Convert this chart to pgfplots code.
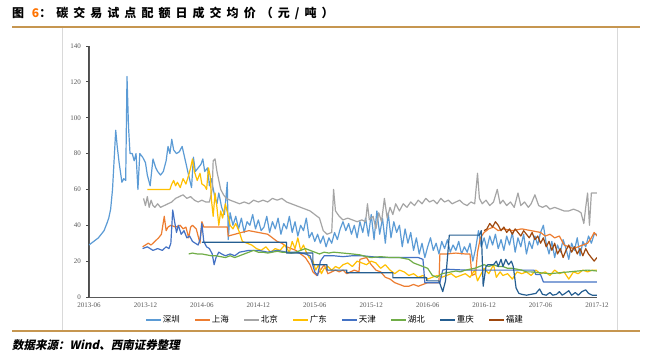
\documentclass[border=0pt]{standalone}
\usepackage{fontspec}
\usepackage{pgfplots}
\pgfplotsset{compat=1.18}
\setmainfont{Liberation Serif}
\newfontfamily\cjk{Noto Sans CJK SC}
\newfontfamily\cjktitle[LetterSpace=42]{Noto Sans CJK SC}
\newfontfamily\cjksrc[FakeSlant=0.2]{Noto Sans CJK SC}
\definecolor{szc}{RGB}{91,155,213}
\definecolor{shc}{RGB}{237,125,49}
\definecolor{bjc}{RGB}{165,165,165}
\definecolor{gdc}{RGB}{255,192,0}
\definecolor{tjc}{RGB}{68,114,196}
\definecolor{hbc}{RGB}{112,173,71}
\definecolor{cqc}{RGB}{37,94,145}
\definecolor{fjc}{RGB}{158,72,14}
\definecolor{goldline}{RGB}{198,150,80}
\definecolor{tickgray}{RGB}{89,89,89}
\begin{document}
\begin{tikzpicture}[x=1pt,y=1pt]
\useasboundingbox (0,0) rectangle (649,356);
\fill[white] (0,0) rectangle (649,356);
% frame
\fill[black!15] (61.6,25) rectangle (62.4,329);
\fill[black!15] (616.6,25) rectangle (617.4,329);
\fill[goldline] (12,328) rectangle (640,330);
\fill[goldline] (12,24) rectangle (640,26);
\node[anchor=west, inner sep=0pt] at (12,343) {\cjktitle\bfseries\fontsize{12}{14}\selectfont 图 {\color{orange!90!red}6}：碳交易试点配额日成交均价（元/吨）};
\node[anchor=west, inner sep=0pt] at (12,11) {\cjksrc\bfseries\fontsize{11.5}{13}\selectfont 数据来源：Wind、西南证券整理};
% y axis line and ticks
\fill[black!70] (88.3,59) rectangle (89.7,310);
\foreach \k in {0,...,7} {\fill[black!70] (86,{59+35.857*\k-0.4}) rectangle (89,{59+35.857*\k+0.4});}
\begin{axis}[
  at={(89pt,59pt)}, anchor=south west,
  scale only axis, width=508pt, height=251pt,
  xmin=0, xmax=54, ymin=0, ymax=140,
  axis x line=bottom, axis y line=left,
  axis line style={tickgray, line width=0.8pt, -},
  xtick={0,6,...,54},
  xticklabels={2013-06,2013-12,2014-06,2014-12,2015-06,2015-12,2016-06,2016-12,2017-06,2017-12},
  ytick={0,20,...,140},
  xtick style={draw=none},
  ytick style={draw=none},
  major tick length=3pt,
  /pgf/number format/assume math mode=true,
  tick label style={font=\fontsize{7}{8}\selectfont\color{tickgray}},
  yticklabel style={xshift=-3pt},
  xticklabel style={yshift=-1pt},
  legend style={at={(0.485,-0.065)}, anchor=north, legend columns=-1, draw=none, fill=none,
    font=\cjk\fontsize{8.5}{9}\selectfont, inner sep=0pt,
    /tikz/every even column/.append style={column sep=13pt}},
  legend image code/.code={\fill[#1, draw=none] (0pt,-0.9pt) rectangle (15pt,0.9pt);},
  every axis plot/.append style={line width=1.2pt, line join=round},
]
% 深圳
\addplot[color=szc] coordinates {
(0,29) (0.5,31) (1.0,33) (1.6,37) (1.9,41) (2.1,44) (2.3,49) (2.5,60) (2.84,93) (3.0,84) (3.2,75) (3.5,64) (3.7,66) (3.9,65) (4.04,123) (4.2,95) (4.36,80) (4.6,80) (4.8,76) (5.0,80) (5.1,70) (5.2,60) (5.4,80) (5.7,78) (6.0,75) (6.2,68) (6.5,62) (6.8,77) (7.1,72) (7.3,70) (7.6,68) (7.9,70) (8.2,76) (8.4,84) (8.6,80) (8.8,88) (9.0,82) (9.3,80) (9.6,81) (9.9,84) (10.2,77) (10.5,70) (10.9,61) (11.1,78) (11.3,70) (11.6,72) (11.9,74) (12.1,77) (12.3,70) (12.6,72) (12.8,62) (13.0,66) (13.4,55) (13.6,52) (13.8,58) (14.1,50) (14.4,46) (14.7,64) (14.8,32) (15.0,47) (15.3,40) (15.6,45) (15.9,38) (16.2,44) (16.5,36) (16.8,42) (17.1,40) (17.4,46) (17.7,38) (18.0,43) (18.3,37) (18.6,39) (18.9,45) (19.2,36) (19.5,42) (19.8,38) (20.1,44) (20.4,35) (20.7,41) (21.0,38) (21.3,45) (21.6,36) (21.9,42) (22.2,34) (22.5,40) (22.8,37) (23.1,44) (23.4,33) (23.7,36) (24.0,31) (24.3,35) (24.6,30) (24.9,34) (25.2,28) (25.5,33) (25.8,30) (26.1,36) (26.4,32) (26.7,38) (27.0,42) (27.3,37) (27.6,41) (27.9,35) (28.2,40) (28.5,33) (28.8,42) (29.1,36) (29.4,44) (29.7,34) (30.0,46) (30.3,32) (30.6,48) (30.9,35) (31.2,44) (31.5,30) (31.8,47) (32.1,33) (32.4,42) (32.7,36) (33.0,40) (33.3,28) (33.6,38) (33.9,30) (34.2,36) (34.5,26) (34.8,33) (35.1,24) (35.4,30) (35.7,22) (36.0,28) (36.3,33) (36.6,26) (36.9,30) (37.2,24) (37.5,31) (37.8,27) (38.1,32) (38.4,25) (38.7,29) (39.0,26) (39.3,31) (39.6,24) (39.9,28) (40.2,25) (40.5,30) (40.8,20) (41.1,27) (41.4,37) (41.7,28) (42.0,33) (42.3,27) (42.6,34) (42.9,29) (43.2,35) (43.5,27) (43.8,32) (44.1,26) (44.4,34) (44.7,29) (45.0,36) (45.3,25) (45.6,33) (45.9,28) (46.2,35) (46.5,24) (46.8,31) (47.1,27) (47.4,34) (47.7,29) (48.0,36) (48.3,40) (48.6,30) (48.9,24) (49.2,31) (49.5,22) (49.8,29) (50.1,25) (50.4,32) (50.7,27) (51.0,21) (51.3,30) (51.6,26) (51.9,33) (52.2,23) (52.5,31) (52.8,28) (53.1,34) (53.4,30) (53.7,35) (54.0,35)
};
\addlegendentry{深圳}
% 上海
\addplot[color=shc] coordinates {
(5.7,28) (6.0,29) (6.3,30) (6.6,29) (7.0,31) (7.4,33) (7.7,35) (8.0,45) (8.2,37) (8.4,39) (8.7,40) (9.2,39) (9.7,40) (10.0,38) (10.3,39) (10.6,33) (10.8,39) (11.0,40) (11.4,38) (11.8,30) (12.0,42) (12.2,39) (14.7,39) (14.8,34) (15.5,35) (16.2,36) (17.0,37) (18.0,36) (19.0,35) (19.5,33) (20.0,31) (20.5,30) (21.0,28) (21.5,27) (22.0,26) (22.5,24) (23.0,22) (23.5,18) (23.8,14) (24.2,12) (24.6,15) (25.0,18) (25.4,13) (25.8,14) (26.2,15) (26.6,14) (27.0,15) (27.4,13) (27.8,14) (28.2,15) (28.7,14) (28.8,21) (29.5,22) (30.0,18) (30.5,15) (31.0,14) (31.5,11) (32.0,10) (32.5,8) (33.0,7) (33.5,6) (34.0,6) (34.5,7) (35.0,6) (35.5,7) (36.0,8) (37.2,8) (37.3,24) (38.0,24) (39.0,24.5) (40.0,24) (40.5,24) (40.7,12) (41.1,13) (41.3,25) (41.6,33) (42.0,36) (42.5,38) (43.0,39) (43.5,37) (44.0,38) (45.0,37) (46.0,38) (47.0,37) (48.0,36) (48.5,34) (49.0,35) (49.5,33) (50.0,34) (50.5,29) (51.0,28) (51.5,27) (52.0,28) (52.5,29) (53.0,30) (53.4,33) (53.7,36) (54.0,34)
};
\addlegendentry{上海}
% 北京
\addplot[color=bjc] coordinates {
(5.8,55) (6.0,51) (6.2,56) (6.4,50) (6.6,54) (6.8,51) (7.0,50) (7.3,52) (7.6,50) (8.0,51) (8.4,52) (8.8,53) (9.2,55) (9.6,56) (10.0,57) (10.4,55) (10.8,56) (11.2,54) (11.6,53) (12.0,54) (12.4,53) (12.8,53) (13.1,60) (13.2,76) (13.4,77) (13.6,70) (13.8,65) (14.0,60) (14.3,57) (14.6,55) (15.0,54) (15.5,53) (16.0,52) (16.5,53) (17.0,52) (17.5,54) (18.0,53) (18.5,54) (19.0,53) (19.5,55) (20.0,54) (20.5,55) (21.0,53) (21.5,52) (22.0,51) (22.5,50) (23.0,49) (23.5,48) (24.0,46) (24.5,44) (24.9,37) (25.3,35) (25.8,36) (26.0,60) (26.2,48) (26.6,45) (27.0,43) (27.5,44) (28.0,43) (28.5,42) (29.0,43) (29.4,42) (29.6,52) (29.8,43) (30.2,45) (30.5,38) (30.8,47) (31.1,42) (31.4,55) (31.7,44) (32.0,50) (32.3,46) (32.6,52) (33.0,48) (33.4,52) (33.8,50) (34.2,53) (34.6,51) (35.0,54) (35.4,52) (35.8,55) (36.2,53) (36.6,54) (37.0,52) (37.4,55) (37.8,53) (38.2,54) (38.6,52) (39.0,53) (39.4,54) (39.8,52) (40.2,51) (40.6,53) (41.0,52) (41.3,69) (41.5,55) (41.8,52) (42.2,54) (42.6,51) (43.0,53) (43.4,60) (43.7,52) (44.0,54) (44.4,51) (44.8,53) (45.2,50) (45.6,58) (45.9,51) (46.3,53) (46.7,50) (47.0,52) (47.4,57) (47.8,51) (48.2,50) (48.6,51) (49.0,49) (49.5,50) (50.0,49) (50.5,48) (51.0,48) (51.5,49) (52.0,48) (52.3,47) (52.6,41) (52.8,50) (53.0,58) (53.2,40) (53.4,58) (54.0,58)
};
\addlegendentry{北京}
% 广东
\addplot[color=gdc] coordinates {
(6.2,60) (8.6,60) (8.8,63) (9.0,65) (9.2,62) (9.4,64) (9.7,61) (10.0,66) (10.3,63) (10.6,68) (10.8,72) (11.0,77) (11.2,70) (11.5,65) (11.8,69) (12.0,63) (12.3,62) (12.5,60) (12.7,72) (12.9,67) (13.0,55) (13.2,45) (13.4,58) (13.6,50) (13.8,40) (14.0,48) (14.2,44) (14.5,52) (14.8,45) (15.0,40) (15.3,38) (15.6,41) (16.0,36) (16.3,31) (16.8,30) (17.3,29) (17.8,27) (18.3,26) (18.8,28) (19.3,25) (19.8,27) (20.3,26) (20.8,29) (21.3,25) (21.6,31) (21.9,27) (22.2,33) (22.5,26) (22.8,29) (23.1,25) (23.4,22) (23.8,20) (24.1,15) (24.4,18) (24.7,13) (25.0,16) (25.4,17) (25.8,15) (26.2,17) (26.6,16) (27.0,18) (27.5,19) (28.0,17) (28.5,20) (29.0,19) (29.5,18) (30.0,20) (30.5,19) (31.0,16) (31.5,18) (32.0,15) (32.5,13) (33.0,15) (33.5,14) (34.0,12) (34.5,13) (35.0,11) (35.5,12) (36.0,10) (36.5,11) (37.0,12) (37.5,11) (38.0,12) (38.5,13) (39.0,11) (39.5,12) (40.0,13) (40.5,11) (41.0,15) (41.3,9) (41.6,12) (42.0,16) (42.5,13) (43.0,18) (43.3,11) (43.7,14) (44.0,12) (44.5,13) (45.0,10) (45.5,14) (46.0,13) (46.5,14) (47.0,12) (47.5,15) (48.0,13) (48.5,14) (49.0,12) (49.5,15) (50.0,13) (50.5,14) (51.0,10) (51.5,14) (52.0,13) (52.5,15) (53.0,14) (53.5,15) (54.0,15)
};
\addlegendentry{广东}
% 天津
\addplot[color=tjc] coordinates {
(5.7,27) (6.2,28) (6.8,26) (7.3,27) (7.8,26) (8.2,28) (8.5,27) (8.7,30) (8.9,48.5) (9.1,42) (9.3,36) (9.5,40) (9.8,35) (10.1,37) (10.4,33) (10.7,34) (11.0,31) (11.3,30) (11.6,29) (11.8,32) (12.0,41) (12.2,31) (12.5,28) (12.8,27) (13.1,24) (13.3,18) (13.5,22) (13.8,25) (14.1,24) (14.5,23) (15.0,24) (15.5,23) (16.0,25) (17.0,26) (18.0,26) (19.0,25) (20.0,26) (21.0,25) (22.0,25) (23.0,24) (23.5,23) (24.0,14) (24.3,12) (24.6,20) (25.0,23) (26.0,23) (27.0,22.5) (28.0,23) (29.0,23) (30.0,22.5) (31.0,22) (32.0,22) (33.0,22) (34.0,22) (35.0,22) (35.5,21) (35.7,8) (36.5,8) (37.3,8) (37.6,15) (38.0,15.5) (40.0,15) (42.0,15) (44.0,15) (46.0,15) (47.3,15) (47.5,12.5) (48.0,12.5) (48.3,8.4) (50.0,8.4) (52.0,8.4) (54.0,8.4)
};
\addlegendentry{天津}
% 湖北
\addplot[color=hbc] coordinates {
(10.6,24) (11.0,24.5) (11.5,24) (12.0,24) (12.5,23.5) (13.0,23) (13.5,23) (14.0,22.5) (14.5,22) (15.0,23) (15.5,22) (16.0,23) (16.5,24) (17.0,25) (17.5,26) (18.0,25) (18.5,25) (19.0,24.5) (19.5,25) (20.0,25.5) (20.5,25) (21.0,25) (21.5,24.5) (22.0,25) (22.5,26) (23.0,27) (23.5,26) (24.0,25) (24.5,24) (25.0,25) (25.5,24.5) (26.0,25) (27.0,24.5) (28.0,24) (28.8,23.5) (29.5,22.5) (30.0,22) (31.0,22.5) (32.0,22) (33.0,22) (34.0,21) (34.5,19) (35.0,18) (35.5,17) (36.0,16) (36.5,12) (37.0,11) (37.5,13) (38.0,13.5) (38.5,14) (39.0,14.5) (39.5,14) (40.0,15) (40.5,15.5) (41.0,16) (41.5,17) (42.0,18) (42.5,17) (43.0,18) (43.5,17) (44.0,17) (44.5,16) (45.0,16) (45.5,15.5) (46.0,15) (46.5,14) (47.0,14) (48.0,13.5) (49.0,13) (50.0,13.5) (51.0,14) (52.0,14.5) (53.0,15) (54.0,14.5)
};
\addlegendentry{湖北}
% 重庆
\addplot[color=cqc] coordinates {
(12.0,30.5) (21.0,30.5) (21.0,24.5) (23.8,24.5) (23.8,18) (25.3,18) (25.3,15) (27.4,15) (27.4,13.5) (32.3,13.5) (32.3,10.7) (35.9,10.7) (35.9,9) (37.2,9) (37.6,3) (37.9,9) (38.3,34.5) (41.5,34.5) (41.7,37) (41.9,6) (42.2,17) (42.4,18) (43.0,18) (43.3,20) (43.5,17) (43.8,21) (44.0,17) (44.3,21) (44.6,18) (44.9,20) (45.1,17) (45.4,5) (45.7,2) (46.0,1.5) (46.5,1) (47.0,1.5) (47.5,2) (47.9,4.5) (48.2,1.5) (48.6,1) (49.0,2.5) (49.3,1) (49.7,1.5) (50.0,3) (50.3,1) (50.6,2) (51.0,3.5) (51.3,1) (51.7,2.5) (52.0,1) (52.4,3) (52.8,4) (53.1,2) (53.5,1) (54.0,1)
};
\addlegendentry{重庆}
% 福建
\addplot[color=fjc] coordinates {
(42.0,37) (42.3,38) (42.6,41) (42.9,39) (43.2,42) (43.5,40) (43.8,37) (44.1,39) (44.4,36) (44.7,38) (45.0,35) (45.3,38) (45.6,36) (45.9,34) (46.2,37) (46.5,35) (46.8,33) (47.1,36) (47.4,32) (47.7,34) (48.0,30) (48.3,33) (48.6,28) (48.9,31) (49.2,26) (49.5,30) (49.8,24) (50.1,27) (50.4,22) (50.7,26) (51.0,29) (51.3,25) (51.6,28) (51.9,24) (52.2,27) (52.5,23) (52.8,27) (53.1,24) (53.4,22) (53.7,20) (54.0,22)
};
\addlegendentry{福建}
\end{axis}
\end{tikzpicture}
\end{document}
